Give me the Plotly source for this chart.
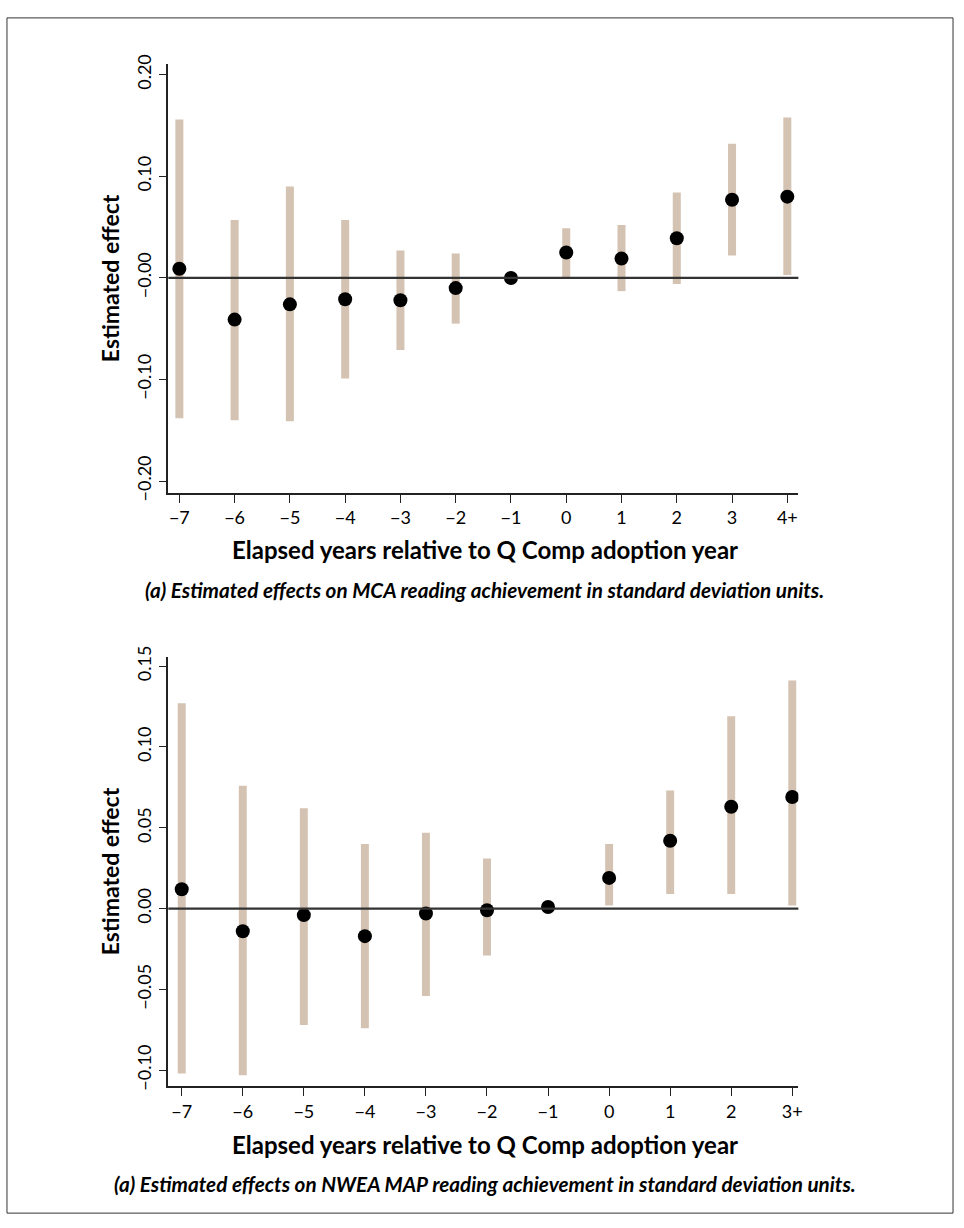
import plotly.graph_objects as go

# ---- Data ----
cats_a = ["\u22127", "\u22126", "\u22125", "\u22124", "\u22123", "\u22122", "\u22121", "0", "1", "2", "3", "4+"]
est_a = [0.009, -0.041, -0.026, -0.021, -0.022, -0.010, 0.000, 0.025, 0.019, 0.039, 0.077, 0.080]
lo_a = [-0.138, -0.140, -0.141, -0.099, -0.071, -0.045, None, 0.000, -0.013, -0.006, 0.022, 0.003]
hi_a = [0.156, 0.057, 0.090, 0.057, 0.027, 0.024, None, 0.049, 0.052, 0.084, 0.132, 0.158]

cats_b = ["\u22127", "\u22126", "\u22125", "\u22124", "\u22123", "\u22122", "\u22121", "0", "1", "2", "3+"]
est_b = [0.012, -0.014, -0.004, -0.017, -0.003, -0.001, 0.001, 0.019, 0.042, 0.063, 0.069]
lo_b = [-0.102, -0.103, -0.072, -0.074, -0.054, -0.029, None, 0.002, 0.009, 0.009, 0.002]
hi_b = [0.127, 0.076, 0.062, 0.040, 0.047, 0.031, None, 0.040, 0.073, 0.119, 0.141]

yticks_a = [-0.2, -0.1, 0.0, 0.1, 0.2]
yticktext_a = ["\u22120.20", "\u22120.10", "\u22120.00", "0.10", "0.20"]
yticks_b = [-0.10, -0.05, 0.0, 0.05, 0.10, 0.15]
yticktext_b = ["\u22120.10", "\u22120.05", "0.00", "0.05", "0.10", "0.15"]

xtitle = "Elapsed years relative to Q Comp adoption year"
ytitle = "Estimated effect"
caption_a = "(a) Estimated effects on MCA reading achievement in standard deviation units."
caption_b = "(a) Estimated effects on NWEA MAP reading achievement in standard deviation units."

# ---- Styling ----
FONT = "Lato"
BAR_COLOR = "#d4c3b2"
AX_COLOR = "#222222"
W, H = 964, 1228


def span(lo, hi):
    return [None if (l is None or h is None) else h - l for l, h in zip(lo, hi)]


fig = go.Figure()

# panel A
fig.add_trace(go.Bar(x=cats_a, y=span(lo_a, hi_a), base=lo_a, width=0.145,
                     marker=dict(color=BAR_COLOR, line=dict(width=0)),
                     xaxis="x", yaxis="y", showlegend=False, hoverinfo="skip"))
fig.add_trace(go.Scatter(x=cats_a, y=est_a, mode="markers",
                         marker=dict(color="black", size=14, line=dict(width=0)),
                         xaxis="x", yaxis="y", showlegend=False))
# panel B
fig.add_trace(go.Bar(x=cats_b, y=span(lo_b, hi_b), base=lo_b, width=0.13,
                     marker=dict(color=BAR_COLOR, line=dict(width=0)),
                     xaxis="x2", yaxis="y2", showlegend=False, hoverinfo="skip"))
fig.add_trace(go.Scatter(x=cats_b, y=est_b, mode="markers",
                         marker=dict(color="black", size=14, line=dict(width=0)),
                         xaxis="x2", yaxis="y2", showlegend=False))

x_dom = [169 / W, 801.7 / W]
ya_dom = [1 - 489 / H, 1 - 53 / H]
yb_dom = [1 - 1092 / H, 1 - 656 / H]

axis_common = dict(showline=True, linecolor=AX_COLOR, linewidth=1.5, ticks="outside",
                   ticklen=8, tickwidth=1.3, tickcolor=AX_COLOR, showgrid=False,
                   zeroline=False, tickfont=dict(family=FONT, size=18, color="black"),
                   mirror=False)

fig.update_layout(
    width=W, height=H, margin=dict(l=0, r=0, t=0, b=0),
    paper_bgcolor="white", plot_bgcolor="white", barmode="overlay",
    font=dict(family=FONT, color="black"),
    xaxis=dict(domain=x_dom, anchor="y", type="category", range=[-0.2, 11.2], **axis_common),
    yaxis=dict(domain=ya_dom, anchor="x", range=[-0.2117, 0.2104], tickvals=yticks_a,
               ticktext=yticktext_a, tickangle=-90, **axis_common),
    xaxis2=dict(domain=x_dom, anchor="y2", type="category", range=[-0.22, 10.1], **axis_common),
    yaxis2=dict(domain=yb_dom, anchor="x2", range=[-0.1098, 0.1554], tickvals=yticks_b,
                ticktext=yticktext_b, tickangle=-90, **axis_common),
)

# zero reference lines
for xr, yr in (("x domain", "y"), ("x2 domain", "y2")):
    fig.add_shape(type="line", xref=xr, yref=yr, x0=0, x1=1, y0=0, y1=0,
                  line=dict(color="#333333", width=2.2), layer="above")

# outer border
fig.add_shape(type="rect", xref="paper", yref="paper", x0=7 / W, x1=957 / W,
              y0=1 - 1221 / H, y1=1 - 6 / H, line=dict(color="#333333", width=1))

cx = 487 / W
annots = [
    dict(text=f"<b>{xtitle}</b>", x=cx, y=1 - 546 / H, size=24),
    dict(text=f"<b><i>{caption_a}</i></b>", x=cx, y=1 - 588 / H, size=20.7),
    dict(text=f"<b>{xtitle}</b>", x=cx, y=1 - 1151 / H, size=24),
    dict(text=f"<b><i>{caption_b}</i></b>", x=cx, y=1 - 1191 / H, size=20.7),
]
for a in annots:
    fig.add_annotation(text=a["text"], x=a["x"], y=a["y"], xref="paper", yref="paper",
                       showarrow=False, xanchor="center", yanchor="middle",
                       font=dict(family=FONT, size=a["size"], color="black"))
for yc in (271, 874):
    fig.add_annotation(text=f"<b>{ytitle}</b>", x=110 / W, y=1 - yc / H, xref="paper",
                       yref="paper", showarrow=False, textangle=-90, xanchor="center",
                       yanchor="middle", font=dict(family=FONT, size=23, color="black"))

fig.write_html("out.html", config={"displayModeBar": False},
               post_script="document.body.style.margin='0';")
